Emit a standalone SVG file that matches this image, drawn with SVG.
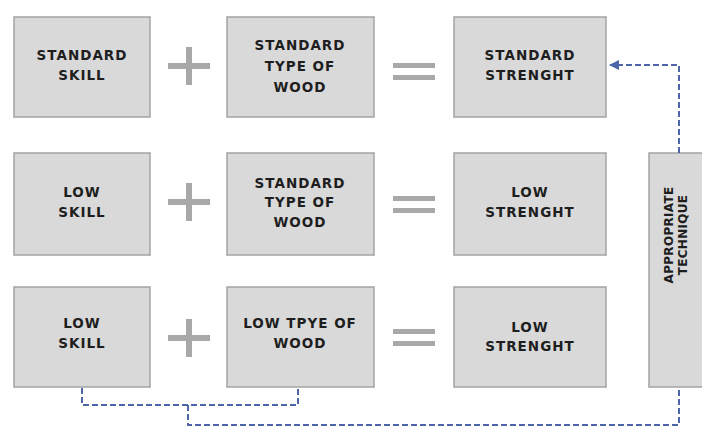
<svg xmlns="http://www.w3.org/2000/svg" width="702" height="431" viewBox="0 0 702 431">
<style>
.box{fill:#d9d9d9;stroke:#a3a3a3;stroke-width:1.5}
.t{font-family:"DejaVu Sans",sans-serif;font-weight:bold;font-size:13.5px;letter-spacing:1px;fill:#1e1e1e;text-anchor:middle}
.v{font-size:12px;letter-spacing:0.3px}
.op{fill:#a8a8a8}
.c{fill:none;stroke:#4d66a8;stroke-width:2;stroke-dasharray:6 3}
</style>
<defs>
<marker id="ah" viewBox="0 0 10 10" refX="9" refY="5" markerWidth="5" markerHeight="5" orient="auto-start-reverse" markerUnits="strokeWidth">
<path d="M0,0 L10,5 L0,10 z" fill="#4d66a8"/>
</marker>
<g id="plus"><rect x="-21" y="-3" width="42" height="6" class="op"/><rect x="-3" y="-19" width="6" height="38" class="op"/></g>
<g id="eq"><rect x="-21" y="-8" width="42" height="5" class="op"/><rect x="-21" y="4" width="42" height="5" class="op"/></g>
</defs>
<rect width="702" height="431" fill="#ffffff"/>

<g id="r1a"><rect class="box" x="14" y="17" width="136" height="100"/><text class="t" x="82" y="60">STANDARD</text><text class="t" x="82" y="80">SKILL</text></g>
<g id="r1b"><rect class="box" x="227" y="17" width="147" height="100"/><text class="t" x="300" y="50">STANDARD</text><text class="t" x="300" y="71">TYPE OF</text><text class="t" x="300" y="92">WOOD</text></g>
<g id="r1c"><rect class="box" x="454" y="17" width="152" height="100"/><text class="t" x="530" y="60">STANDARD</text><text class="t" x="530" y="80">STRENGHT</text></g>

<g id="r2a"><rect class="box" x="14" y="153" width="136" height="102"/><text class="t" x="82" y="197">LOW</text><text class="t" x="82" y="217">SKILL</text></g>
<g id="r2b"><rect class="box" x="227" y="153" width="147" height="102"/><text class="t" x="300" y="188">STANDARD</text><text class="t" x="300" y="207">TYPE OF</text><text class="t" x="300" y="227">WOOD</text></g>
<g id="r2c"><rect class="box" x="454" y="153" width="152" height="102"/><text class="t" x="530" y="197">LOW</text><text class="t" x="530" y="217">STRENGHT</text></g>

<g id="r3a"><rect class="box" x="14" y="287" width="136" height="100"/><text class="t" x="82" y="328">LOW</text><text class="t" x="82" y="348">SKILL</text></g>
<g id="r3b"><rect class="box" x="227" y="287" width="147" height="100"/><text class="t" x="300" y="328">LOW TPYE OF</text><text class="t" x="300" y="348">WOOD</text></g>
<g id="r3c"><rect class="box" x="454" y="287" width="152" height="100"/><text class="t" x="530" y="332">LOW</text><text class="t" x="530" y="351">STRENGHT</text></g>

<g id="tech"><rect class="box" x="649" y="153" width="56" height="234"/>
<text class="t v" transform="translate(673,235) rotate(-90)">APPROPRIATE</text>
<text class="t v" transform="translate(687,235) rotate(-90)">TECHNIQUE</text></g>

<g id="ops">
<use href="#plus" x="189" y="66"/><use href="#plus" x="189" y="202"/><use href="#plus" x="189" y="338"/>
<use href="#eq" x="414" y="71"/><use href="#eq" x="414" y="204"/><use href="#eq" x="414" y="337"/>
</g>

<g id="connectors">
<path class="c" d="M679,153 V65 H610" marker-end="url(#ah)"/>
<path class="c" d="M82,388 V405 H298 V388"/>
<path class="c" d="M188,405 V425 H679 V388"/>
</g>
</svg>
